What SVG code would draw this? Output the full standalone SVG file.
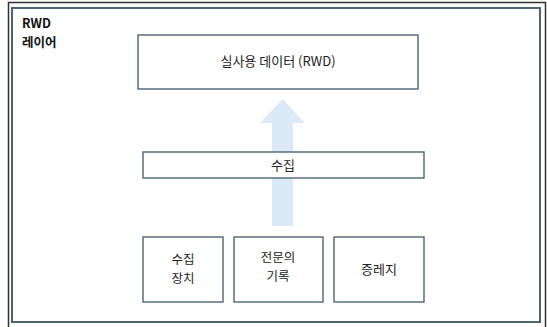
<svg xmlns="http://www.w3.org/2000/svg" width="547" height="327" viewBox="0 0 547 327">
<style>
.frame{fill:none;stroke:#4e6473;stroke-width:2}
.box{fill:#ffffff;stroke:#4e6473;stroke-width:1.4}
.t{font-family:"Noto Sans CJK KR","Noto Sans",sans-serif;font-size:13px;fill:#222;text-anchor:middle}
.t2{font-family:"Noto Sans CJK KR","Noto Sans",sans-serif;font-size:12.5px;fill:#222;text-anchor:middle}
.lbl{font-family:"Noto Sans CJK KR","Noto Sans",sans-serif;font-size:12.5px;font-weight:bold;fill:#111}
</style>
<rect width="547" height="327" fill="#ffffff"/>
<path d="M8.5 330 V2.5 H545.5 V330" fill="none" stroke="#333" stroke-width="1.5"/>
<rect class="frame" x="12" y="8" width="528" height="314"/>
<g id="layer-label">
<text class="lbl" x="22" y="28">RWD</text>
<text class="lbl" x="22" y="47">레이어</text>
</g>
<g id="connectors">
<polygon points="282.5,99 305,123 293,123 293,226 272,226 272,123 260,123" fill="#dce9f6"/>
</g>
<g id="rwd-data">
<rect class="box" x="138" y="35" width="280" height="54"/>
<text class="t" x="278" y="66">실사용 데이터 (RWD)</text>
</g>
<g id="collect">
<rect class="box" x="143" y="152" width="281" height="26"/>
<text class="t" x="283" y="170">수집</text>
</g>
<g id="device">
<rect class="box" x="143" y="237" width="80" height="65"/>
<text class="t2" x="183" y="264">수집</text>
<text class="t2" x="183" y="282.5">장치</text>
</g>
<g id="record">
<rect class="box" x="234" y="237" width="89" height="65"/>
<text class="t2" x="278" y="262">전문의</text>
<text class="t2" x="278" y="280.5">기록</text>
</g>
<g id="cert">
<rect class="box" x="334" y="237" width="90" height="65"/>
<text class="t" x="379" y="274">증레지</text>
</g>
</svg>
